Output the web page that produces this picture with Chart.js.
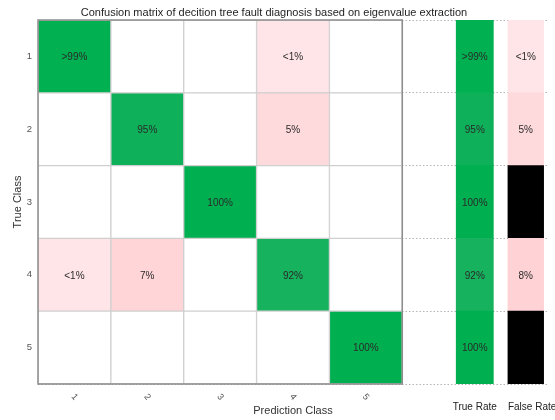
<!DOCTYPE html>
<html><head><meta charset="utf-8">
<script src="https://cdn.jsdelivr.net/npm/chart.js@4.4.1/dist/chart.umd.min.js"></script>
<style>html,body{margin:0;padding:0;background:#fff;}#wrap{width:555px;height:420px;position:relative;}</style>
</head><body><div id="wrap"><canvas id="c" width="555" height="420"></canvas></div>
<script>
// ---- data ----
const classes = ['1', '2', '3', '4', '5'];
// rows = true class, columns = predicted class (percent)
const trueClass1 = [99.5, 0, 0, 0.5, 0];
const trueClass2 = [0, 95, 0, 5, 0];
const trueClass3 = [0, 0, 100, 0, 0];
const trueClass4 = [0.5, 7, 0, 92, 0];
const trueClass5 = [0, 0, 0, 0, 100];
const trueRate = [99.5, 95, 100, 92, 100];
const falseRate = [0.5, 5, 0, 8, 0];
const rateTitles = ['True Rate', 'False Rate'];
const chartTitle = 'Confusion matrix of decition tree fault diagnosis based on eigenvalue extraction';
const xTitle = 'Prediction Class';
const yTitle = 'True Class';

const matrix = [trueClass1, trueClass2, trueClass3, trueClass4, trueClass5];
const FONT = '"Liberation Sans", Arial, sans-serif';

function fmt(v) {
  if (v === 0) return '';
  if (v > 99 && v < 100) return '>99%';
  if (v > 0 && v < 1) return '<1%';
  return v + '%';
}
function greenFor(v) {
  const t = Math.max(0, Math.min(1, (100 - v) / 8));
  return `rgb(${Math.round(22 * t)},${Math.round(176 + 2 * t)},${Math.round(80 + 14 * t)})`;
}
function pinkFor(v) {
  const t = Math.max(0, Math.min(1, v / 8));
  return `rgb(255,${Math.round(230 - 20 * t)},${Math.round(232 - 18 * t)})`;
}
function cellColor(v, diag) {
  if (v === 0) return '#ffffff';
  return diag ? greenFor(v) : pinkFor(v);
}

const common = { grouped: false, barPercentage: 1, categoryPercentage: 1, borderSkipped: false };
const datasets = [];
classes.forEach((c, j) => {
  datasets.push(Object.assign({
    label: 'Predicted ' + c,
    data: classes.map(() => [j, j + 1]),
    values: matrix.map(r => r[j]),
    backgroundColor: matrix.map((r, i) => cellColor(r[j], i === j)),
    borderColor: '#cfcfcf',
    borderWidth: 1
  }, common));
});
datasets.push(Object.assign({
  label: rateTitles[0],
  data: classes.map(() => [5.74, 6.25]),
  values: trueRate,
  backgroundColor: trueRate.map(v => greenFor(v)),
  borderWidth: 0
}, common));
datasets.push(Object.assign({
  label: rateTitles[1],
  data: classes.map(() => [6.45, 6.94]),
  values: falseRate,
  backgroundColor: falseRate.map(v => v === 0 ? '#000000' : pinkFor(v)),
  borderWidth: 0
}, common));

const overlay = {
  id: 'overlay',
  afterDatasetsDraw(chart) {
    const ctx = chart.ctx;
    const xs = chart.scales.x, ys = chart.scales.y;
    // cell texts
    ctx.save();
    ctx.font = '10px ' + FONT;
    ctx.fillStyle = '#2a2a2a';
    ctx.textAlign = 'center';
    ctx.textBaseline = 'middle';
    chart.data.datasets.forEach((ds, di) => {
      const meta = chart.getDatasetMeta(di);
      meta.data.forEach((el, i) => {
        const p = el.getProps(['x', 'y', 'base'], true);
        const t = fmt(ds.values[i]);
        if (t) ctx.fillText(t, (p.x + p.base) / 2, p.y + 1);
      });
    });
    ctx.restore();
    // matrix outline
    const x0 = xs.getPixelForValue(0), x5 = xs.getPixelForValue(5);
    const top = chart.chartArea.top, bottom = chart.chartArea.bottom;
    ctx.save();
    ctx.strokeStyle = '#8c8c8c';
    ctx.lineWidth = 1.5;
    ctx.strokeRect(x0, top, x5 - x0, bottom - top);
    ctx.restore();
    // x tick labels (rotated)
    ctx.save();
    ctx.font = '9px ' + FONT;
    ctx.fillStyle = '#555';
    ctx.textAlign = 'center';
    ctx.textBaseline = 'middle';
    classes.forEach((c, i) => {
      ctx.save();
      ctx.translate(xs.getPixelForValue(i + 0.5), bottom + 13);
      ctx.rotate(50 * Math.PI / 180);
      ctx.fillText(c, 0, 0);
      ctx.restore();
    });
    // rate titles
    ctx.font = '10px ' + FONT;
    ctx.fillStyle = '#222';
    ctx.textAlign = 'center';
    ctx.fillText(rateTitles[0], xs.getPixelForValue(5.995), bottom + 23);
    ctx.textAlign = 'left';
    ctx.fillText(rateTitles[1], xs.getPixelForValue(6.45), bottom + 23);
    ctx.restore();
  }
};

new Chart(document.getElementById('c'), {
  type: 'bar',
  data: { labels: classes, datasets },
  options: {
    indexAxis: 'y',
    responsive: false,
    animation: false,
    layout: { padding: { left: 0, right: 7, top: 0, bottom: 0 } },
    plugins: {
      legend: { display: false },
      tooltip: { enabled: false },
      title: {
        display: true, text: chartTitle, color: '#1e1e1e',
        font: { family: FONT, size: 11, weight: 'normal' },
        padding: { top: 6, bottom: 0.8 }
      }
    },
    scales: {
      x: {
        type: 'linear', min: 0, max: 7,
        grid: { display: false },
        border: { display: false },
        ticks: { display: false },
        title: { display: true, text: xTitle, color: '#333', font: { family: FONT, size: 11 }, padding: { top: 0, bottom: 2 } },
        afterFit(s) { s.height = 36; }
      },
      y: {
        type: 'category',
        offset: true,
        grid: { offset: true, color: '#b4b4b4', lineWidth: 1, drawTicks: false },
        border: { display: false, dash: [1.5, 2] },
        ticks: { color: '#555', font: { family: FONT, size: 9.5 }, padding: 6 },
        title: { display: true, text: yTitle, color: '#333', font: { family: FONT, size: 11 }, padding: { top: 11, bottom: 0 } },
        afterFit(s) { s.width = 38; }
      }
    }
  },
  plugins: [overlay]
});
</script>
</body></html>
